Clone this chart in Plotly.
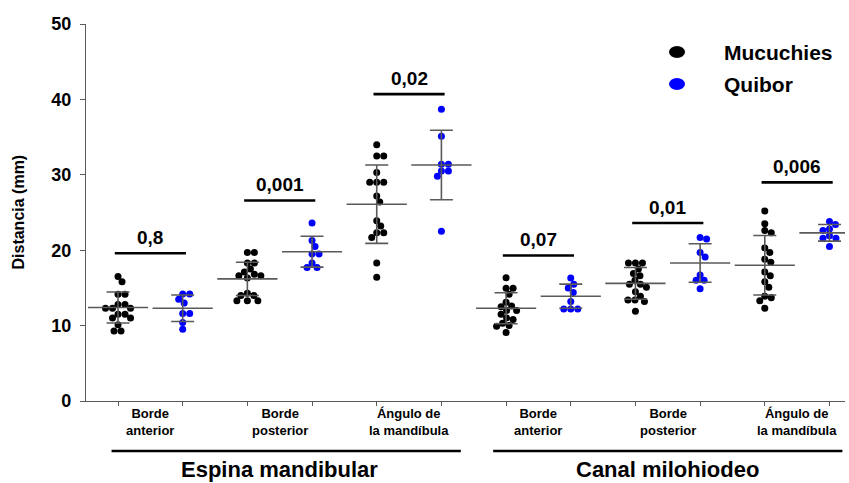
import plotly.graph_objects as go

# ---------------- data ----------------
subcategories = ["Borde<br>anterior", "Borde<br>posterior", "Ángulo de<br>la mandíbula",
                 "Borde<br>anterior", "Borde<br>posterior", "Ángulo de<br>la mandíbula"]
groups = ["Espina mandibular", "Canal milohiodeo"]
series_names = ["Mucuchies", "Quibor"]

mucuchies = [
    [16.5, 15.8, 14.15, 14.15, 12.8, 12.8, 12.3, 12.3, 12.3, 11.5, 11.5, 11.0, 11.0, 10.1, 9.3, 9.3],
    [19.7, 19.7, 18.3, 18.3, 17.5, 17.1, 16.8, 16.6, 16.6, 16.3, 14.3, 14.0, 14.0, 13.3, 13.3, 13.3],
    [34.0, 32.5, 32.5, 30.3, 29.0, 29.0, 29.0, 27.2, 26.4, 23.9, 23.2, 22.3, 22.3, 21.7, 18.3, 16.4],
    [16.35, 14.95, 14.95, 14.15, 13.1, 12.6, 12.5, 12.0, 12.0, 11.5, 11.0, 10.8, 10.3, 10.0, 9.9, 9.1],
    [18.3, 18.3, 18.3, 17.5, 16.9, 16.6, 16.0, 15.5, 15.5, 15.1, 14.5, 13.9, 13.4, 13.4, 13.2, 11.9],
    [25.2, 23.5, 22.6, 22.3, 20.3, 19.7, 18.8, 18.4, 17.1, 16.6, 15.8, 15.1, 13.9, 13.7, 13.3, 12.3],
]
quibor = [
    [14.2, 14.2, 13.5, 13.0, 11.6, 11.6, 10.4, 9.5],
    [23.6, 21.3, 20.5, 19.5, 19.5, 18.3, 17.7, 17.7],
    [38.7, 35.1, 31.4, 31.4, 30.5, 30.5, 29.8, 22.5],
    [16.3, 15.5, 15.0, 14.4, 13.2, 12.2, 12.2, 12.2],
    [21.7, 21.5, 19.7, 19.1, 16.7, 16.0, 16.0, 14.9],
    [23.8, 23.4, 22.8, 22.6, 21.9, 21.6, 21.6, 20.5],
]
mean_mucuchies = [12.4, 16.2, 26.1, 12.3, 15.6, 18.0]
sd_mucuchies = [2.05, 2.2, 5.2, 2.05, 2.1, 3.95]
mean_quibor = [12.3, 19.8, 31.3, 13.9, 18.3, 22.3]
sd_quibor = [1.75, 2.05, 4.6, 1.6, 2.55, 1.1]

p_values = ["0,8", "0,001", "0,02", "0,07", "0,01", "0,006"]
bracket_y = [19.6, 26.6, 40.7, 19.3, 23.6, 29.0]

y_ticks = [0, 10, 20, 30, 40, 50]

# ---------------- geometry ----------------
W, H = 849, 483
L, R, T, B = 86, 4, 24, 82
XR = [-0.495, 11.24]
YR = [0, 50]
PW, PH = W - L - R, H - T - B
PX_X = PW / (XR[1] - XR[0])
PX_Y = PH / (YR[1] - YR[0])

FONT = "Liberation Sans, Arial, sans-serif"
GRAY = "#5a5a5a"
BLACK = "#000000"
BLUE = "#0000FF"


def xpaper(v):
    return (v - XR[0]) / (XR[1] - XR[0])


def ypaper_px(py):
    return (T + PH - py) / PH


def xpaper_px(px):
    return (px - L) / PW


def swarm(vals, d=6.6, step=0.5):
    placed = []
    off = [0.0] * len(vals)
    order = sorted(range(len(vals)), key=lambda i: -vals[i])
    for i in order:
        y = vals[i] * PX_Y
        k = 0
        while True:
            cands = [0.0] if k == 0 else [k * step, -k * step]
            ok = None
            for c in cands:
                if all((c - a) ** 2 + (y - b) ** 2 >= d * d for a, b in placed):
                    ok = c
                    break
            if ok is not None:
                break
            k += 1
        placed.append((ok, y))
        off[i] = ok / PX_X
    return off


fig = go.Figure()

for s, (data, color) in enumerate([(mucuchies, BLACK), (quibor, BLUE)]):
    xs, ys = [], []
    for g, vals in enumerate(data):
        col = 2 * g + s
        offs = swarm(vals)
        xs += [col + o for o in offs]
        ys += vals
    fig.add_trace(go.Scatter(x=xs, y=ys, mode="markers", name=series_names[s],
                             marker=dict(size=7, color=color), showlegend=False,
                             hoverinfo="y"))

for s, (means, sds) in enumerate([(mean_mucuchies, sd_mucuchies), (mean_quibor, sd_quibor)]):
    cols = [2 * g + s for g in range(len(means))]
    fig.add_trace(go.Scatter(
        x=cols, y=means, mode="markers", showlegend=False, hoverinfo="skip",
        marker=dict(symbol="line-ew", size=43, color=GRAY, line=dict(width=1.6, color=GRAY)),
        error_y=dict(type="data", array=sds, width=11.5, thickness=1.6, color=GRAY)))

shapes = []
annotations = []

# p-value brackets
for g, (p, by) in enumerate(zip(p_values, bracket_y)):
    mid = 2 * g + 0.5
    shapes.append(dict(type="line", xref="x", yref="y", x0=mid - 0.55, x1=mid + 0.55,
                       y0=by, y1=by, line=dict(color=BLACK, width=2.6)))
    annotations.append(dict(x=mid, y=by, xref="x", yref="y", text=p, showarrow=False,
                            xanchor="center", yanchor="bottom", yshift=3,
                            font=dict(family=FONT, size=19, color=BLACK, weight="bold")))

# sub-category labels
for g, lab in enumerate(subcategories):
    mid = 2 * g + 0.5
    annotations.append(dict(x=xpaper(mid), y=0, xref="paper", yref="paper", text=lab,
                            showarrow=False, xanchor="center", yanchor="top", yshift=-3,
                            font=dict(family=FONT, size=13, color=BLACK, weight="bold")))

# group underlines and labels
group_spans = [(-0.1, 5.3), (5.8, 11.2)]
for gi, (name, (a, b)) in enumerate(zip(groups, group_spans)):
    shapes.append(dict(type="line", xref="paper", yref="paper", x0=xpaper(a), x1=xpaper(b),
                       y0=ypaper_px(451), y1=ypaper_px(451), line=dict(color=BLACK, width=2.6)))
    annotations.append(dict(x=xpaper(6 * gi + 2.5), y=ypaper_px(469), xref="paper", yref="paper",
                            text=name, showarrow=False, xanchor="center", yanchor="middle",
                            font=dict(family=FONT, size=22, color=BLACK, weight="bold")))

# legend (custom)
for k, (name, color, py) in enumerate([(series_names[0], BLACK, 52), (series_names[1], BLUE, 84)]):
    cx = 677
    shapes.append(dict(type="circle", xref="paper", yref="paper",
                       x0=xpaper_px(cx - 8), x1=xpaper_px(cx + 8),
                       y0=ypaper_px(py + 6), y1=ypaper_px(py - 6),
                       fillcolor=color, line=dict(color=color, width=0)))
    annotations.append(dict(x=xpaper_px(722), y=ypaper_px(py), xref="paper", yref="paper",
                            text=name, showarrow=False, xanchor="left", yanchor="middle",
                            font=dict(family=FONT, size=21, color=BLACK, weight="bold")))

# y title
annotations.append(dict(x=0, y=0.5, xref="paper", yref="paper", text="Distancia (mm)",
                        showarrow=False, textangle=-90, xshift=-68, xanchor="center",
                        yanchor="middle",
                        font=dict(family=FONT, size=16, color=BLACK, weight="bold")))

fig.update_layout(
    width=W, height=H, margin=dict(l=L, r=R, t=T, b=B),
    paper_bgcolor="white", plot_bgcolor="white",
    font=dict(family=FONT, color=BLACK),
    shapes=shapes, annotations=annotations, showlegend=False,
    xaxis=dict(range=XR, showgrid=False, zeroline=False, showline=True, linecolor=GRAY,
               linewidth=1.3, ticks="outside", tickvals=list(range(12)), ticklen=4,
               tickcolor=GRAY, tickwidth=1.2, showticklabels=False),
    yaxis=dict(range=YR, showgrid=False, zeroline=False, showline=True, linecolor=GRAY,
               linewidth=1.3, ticks="outside", tickvals=y_ticks, ticklen=5, tickcolor=GRAY,
               tickwidth=1.2, ticklabelstandoff=5,
               tickfont=dict(family=FONT, size=18, color=BLACK, weight="bold")),
)

fig.write_html("out.html")
